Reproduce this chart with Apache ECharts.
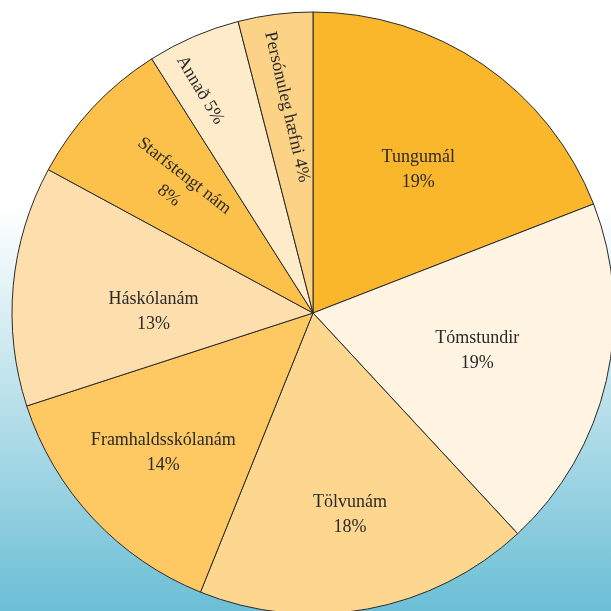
<!DOCTYPE html>
<html>
<head>
<meta charset="utf-8">
<script src="https://cdn.jsdelivr.net/npm/echarts@6/dist/echarts.min.js"></script>
<style>
  html, body { margin: 0; padding: 0; }
  #chart { width: 611px; height: 611px; }
</style>
</head>
<body>
<div id="chart"></div>
<script>
// share of each category, clockwise from 12 o'clock
const categories = ['Tungumál', 'Tómstundir', 'Tölvunám', 'Framhaldsskólanám', 'Háskólanám', 'Starfstengt nám', 'Annað', 'Persónuleg hæfni'];
const values = [19.1, 19.0, 18.0, 13.9, 12.9, 8.1, 5.0, 4.0];

const sliceColors = ['#fbb72b', '#fff3e1', '#fdd68f', '#fec862', '#fddfad', '#fcc14b', '#fdebca', '#fcd386'];
// label distance from the centre, as a fraction of the radius
const labelRadius = [0.58, 0.55, 0.67, 0.67, 0.52, 0.61, 0.82, 0.68];
// small turn (degrees, clockwise) off the slice's mid angle
const labelTurn = [2, 0, 0, 0, -5, 0, -3.5, 0];
const labelRotate = [0, 0, 0, 0, 0, -38, -59, -77];
const oneLine = [false, false, false, false, false, false, true, true];

const center = [313, 313];
const radius = 301;

// mid angle of every slice, clockwise from the top
const total = values.reduce((a, b) => a + b, 0);
let acc = 0;
const midAngles = values.map((v) => {
  const mid = (acc + v / 2) / total * 2 * Math.PI;
  acc += v;
  return mid;
});

const chart = echarts.init(document.getElementById('chart'));

chart.setOption({
  animation: false,
  backgroundColor: {
    type: 'linear', x: 0, y: 0, x2: 0, y2: 1,
    colorStops: [
      { offset: 0, color: '#ffffff' },
      { offset: 0.34, color: '#ffffff' },
      { offset: 0.7, color: '#b0dce8' },
      { offset: 1, color: '#6bbfd6' }
    ]
  },
  series: [{
    type: 'pie',
    center: center,
    radius: radius,
    startAngle: 90,
    clockwise: true,
    silent: true,
    itemStyle: { borderColor: '#2a2a2a', borderWidth: 1 },
    label: {
      show: true,
      position: 'inside',
      fontFamily: 'Liberation Serif',
      fontSize: 18,
      lineHeight: 25,
      color: '#2a2a2a',
      formatter: (p) => p.name + (oneLine[p.dataIndex] ? ' ' : '\n') + Math.round(p.percent) + '%'
    },
    labelLine: { show: false },
    labelLayout: (p) => {
      // default "inside" spot is half the radius out on the mid angle;
      // move it to labelRadius / labelTurn.
      // dx/dy act in the label's own (rotated) frame, so undo the rotation.
      const i = p.dataIndex;
      const a0 = midAngles[i];
      const a1 = a0 + labelTurn[i] * Math.PI / 180;
      const r1 = labelRadius[i] * radius;
      const r0 = 0.5 * radius;
      const x = r1 * Math.sin(a1) - r0 * Math.sin(a0);
      const y = -r1 * Math.cos(a1) + r0 * Math.cos(a0);
      const rho = labelRotate[i] * Math.PI / 180;
      return {
        dx: x * Math.cos(rho) - y * Math.sin(rho),
        dy: x * Math.sin(rho) + y * Math.cos(rho)
      };
    },
    data: categories.map((name, i) => ({
      name: name,
      value: values[i],
      itemStyle: { color: sliceColors[i] },
      label: { rotate: labelRotate[i] }
    }))
  }]
});
</script>
</body>
</html>
